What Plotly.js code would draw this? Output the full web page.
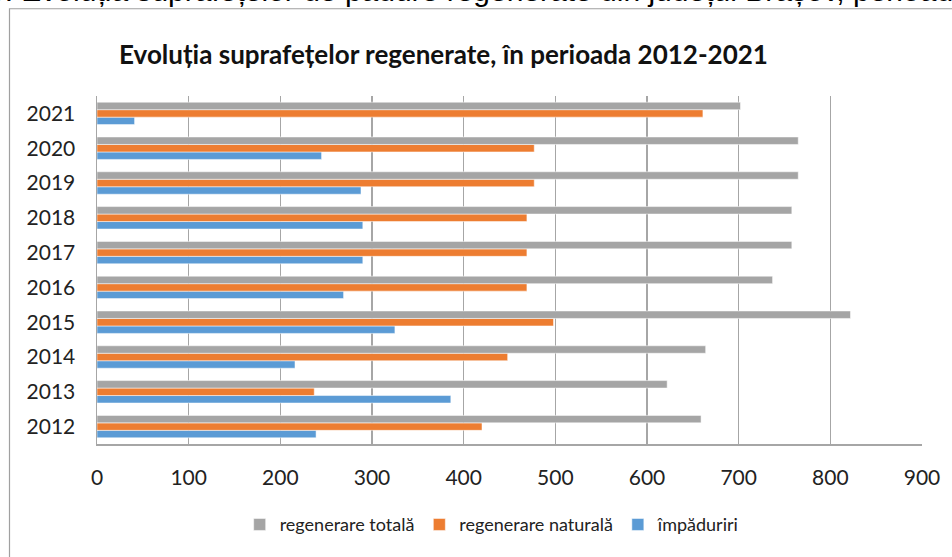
<!DOCTYPE html>
<html>
<head>
<meta charset="utf-8">
<script src="https://cdn.plot.ly/plotly-3.0.1.min.js"></script>
<style>
    html, body { margin: 0; padding: 0; background: #fff; }
    #plot { width: 952px; height: 557px; }
</style>
</head>
<body>
<div id="plot"></div>
<script>
// years on the category axis (bottom to top)
let years = ["2012", "2013", "2014", "2015", "2016", "2017", "2018", "2019", "2020", "2021"];

// values
let regenerareTotala = [659, 622, 664, 822, 737, 758, 758, 765, 765, 702];
let regenerareNaturala = [420, 237, 448, 498, 469, 469, 469, 477, 477, 661];
let impaduriri = [239, 386, 216, 325, 269, 290, 290, 288, 245, 41];

let xTicks = [0, 100, 200, 300, 400, 500, 600, 700, 800, 900];

// plotly draws the first trace at the bottom of each group,
// so the blue one goes first and the legend is reversed
let blueTrace = {
    x: impaduriri,
    y: years,
    name: "împăduriri",
    type: "bar",
    orientation: "h",
    marker: { color: "#5B9BD5", line: { color: "rgba(255,255,255,0.5)", width: 1 } }
};

let orangeTrace = {
    x: regenerareNaturala,
    y: years,
    name: "regenerare naturală",
    type: "bar",
    orientation: "h",
    marker: { color: "#ED7D31", line: { color: "rgba(255,255,255,0.5)", width: 1 } }
};

let greyTrace = {
    x: regenerareTotala,
    y: years,
    name: "regenerare totală",
    type: "bar",
    orientation: "h",
    marker: { color: "#A5A5A5", line: { color: "rgba(255,255,255,0.5)", width: 1 } }
};

let data = [blueTrace, orangeTrace, greyTrace];

let layout = {
    width: 952,
    height: 557,
    margin: { l: 97, r: 30, t: 96, b: 113, pad: 0 },
    paper_bgcolor: "#ffffff",
    plot_bgcolor: "#ffffff",
    font: { family: "Lato, sans-serif", color: "#222222" },
    barmode: "group",
    bargap: 0.355,
    bargroupgap: 0,
    showlegend: true,
    title: {
        text: "<b>Evoluția suprafețelor regenerate, în perioada 2012-2021</b>",
        font: { family: "Lato, sans-serif", size: 26, color: "#111111" },
        xref: "paper",
        x: 0.42,
        xanchor: "center",
        yref: "container",
        y: 1 - 55 / 557,
        yanchor: "middle"
    },
    xaxis: {
        range: [0, 900],
        tickvals: xTicks,
        ticktext: xTicks.map(String),
        tickfont: { size: 21, color: "#222222" },
        ticklabelstandoff: 14,
        showgrid: true,
        gridcolor: "#a6a6a6",
        gridwidth: 1.5,
        zeroline: false,
        showline: true,
        linecolor: "#a6a6a6",
        linewidth: 1.5,
        mirror: false,
        fixedrange: true
    },
    yaxis: {
        type: "category",
        tickfont: { size: 21, color: "#222222" },
        ticklabelstandoff: 16,
        showgrid: false,
        zeroline: false,
        showline: true,
        linecolor: "#a6a6a6",
        linewidth: 1.5,
        fixedrange: true
    },
    legend: {
        orientation: "h",
        traceorder: "reversed",
        x: 0.479,
        xanchor: "center",
        y: (444 - 525) / 349,
        yanchor: "middle",
        font: { family: "Lato, sans-serif", size: 18, color: "#222222" },
        itemwidth: 30
    },
    shapes: [
        // outer chart frame, cut off at right and bottom
        {
            type: "rect",
            xref: "paper",
            yref: "paper",
            x0: (9.5 - 97) / 825,
            x1: 1.2,
            y0: -0.4,
            y1: 1 + (96 - 8.5) / 349,
            line: { color: "#a0a0a0", width: 1.2 },
            fillcolor: "rgba(0,0,0,0)",
            layer: "below"
        }
    ],
    annotations: [
        // caption of the page, only its lower edge is visible
        {
            text: "5. Evoluția suprafețelor de pădure regenerate din județul Brașov, perioada 2012-2021",
            showarrow: false,
            xref: "paper",
            yref: "paper",
            x: (-14 - 97) / 825,
            xanchor: "left",
            y: 1 + (96 - 9) / 349,
            yanchor: "bottom",
            font: { family: "Liberation Sans, Arial, sans-serif", size: 30, color: "#000000" }
        }
    ]
};

Plotly.newPlot("plot", data, layout, { displayModeBar: false, staticPlot: true });
</script>
</body>
</html>
